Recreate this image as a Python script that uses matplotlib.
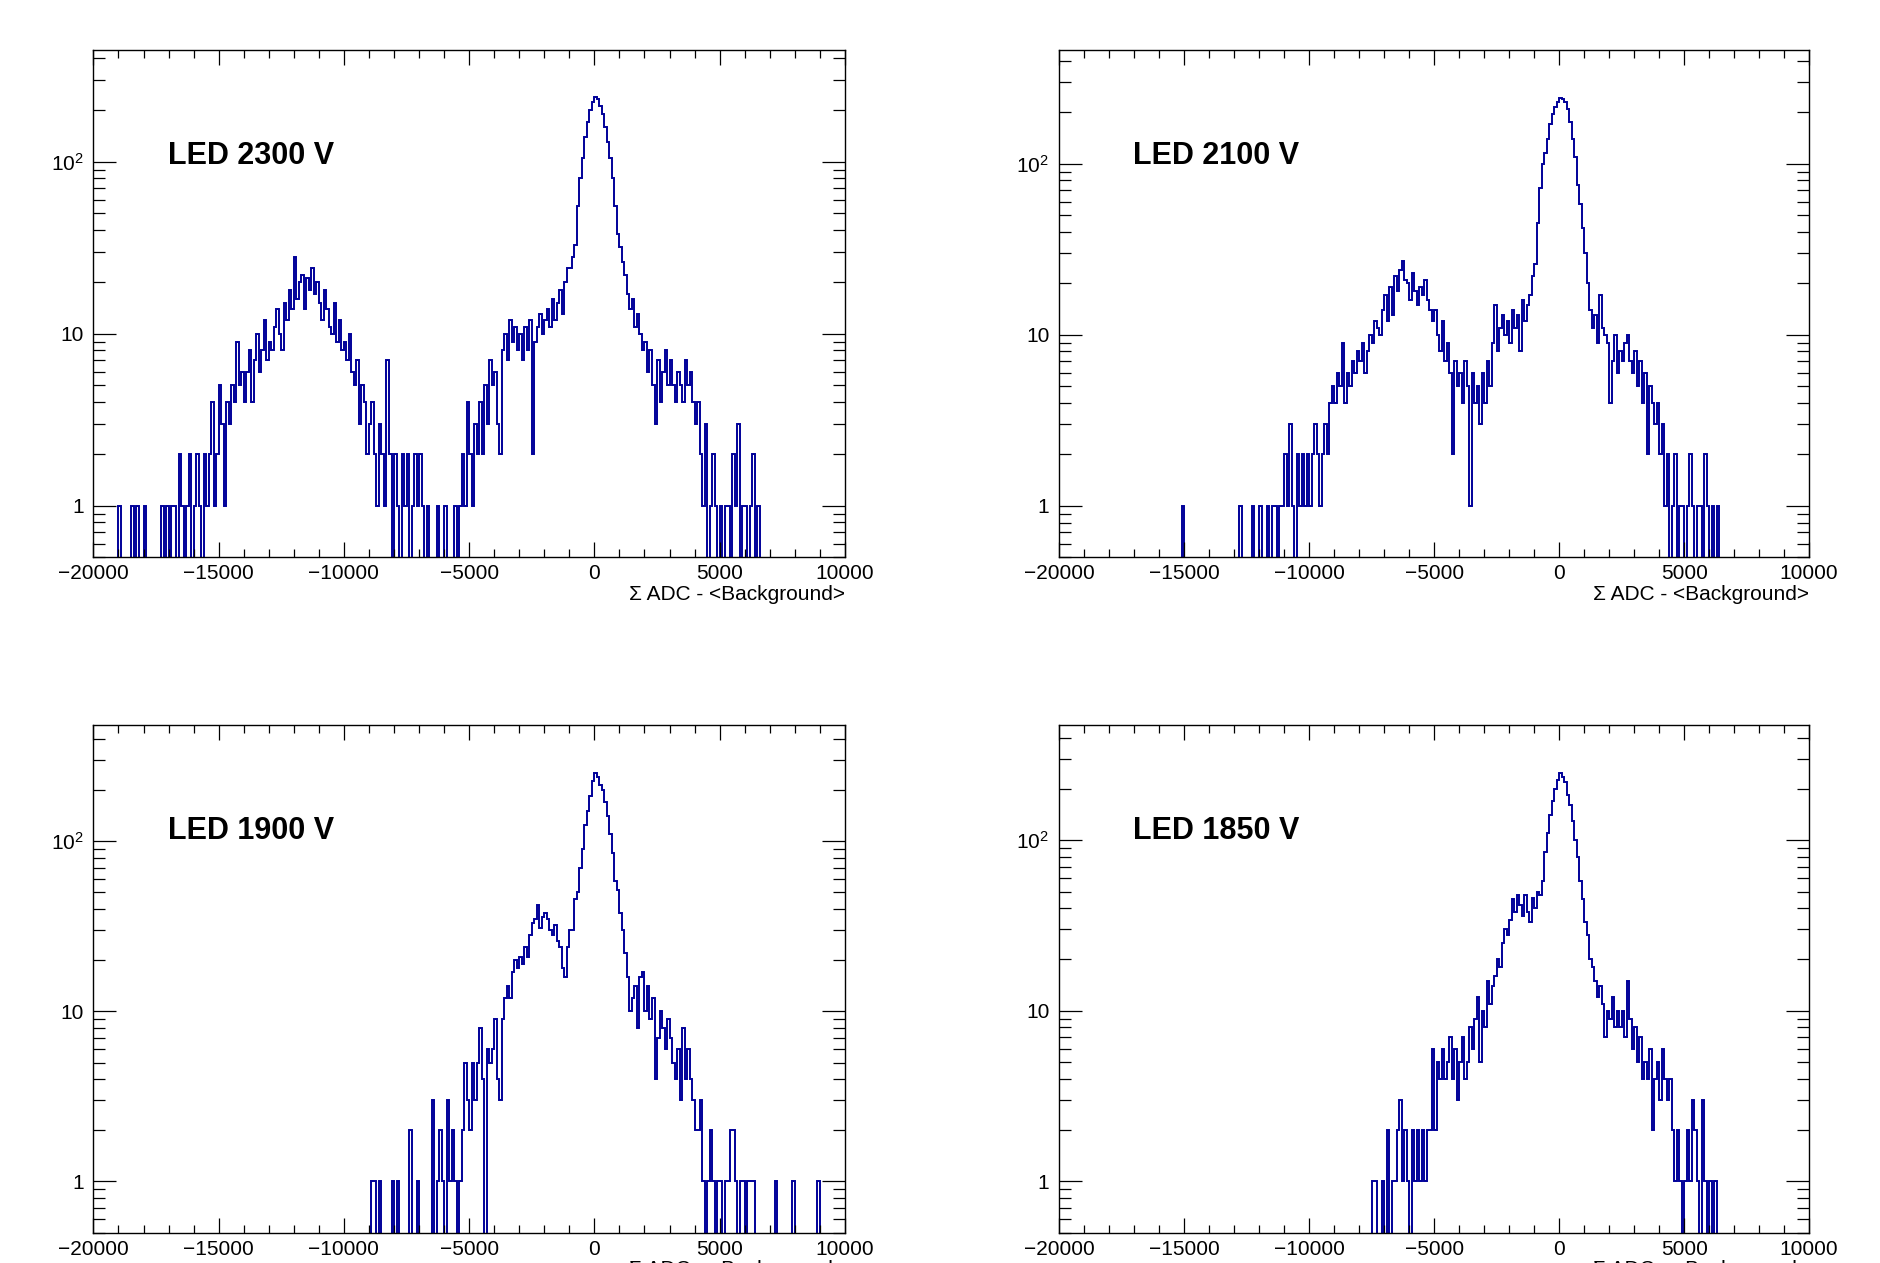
import matplotlib
matplotlib.use('Agg')
import matplotlib.pyplot as plt
from matplotlib.ticker import FixedLocator, MultipleLocator, LogLocator, NullFormatter
import numpy as np

plt.rcParams['font.family'] = ['Liberation Sans', 'DejaVu Sans']
plt.rcParams['mathtext.fontset'] = 'custom'
plt.rcParams['mathtext.rm'] = 'Liberation Sans'
plt.rcParams['mathtext.it'] = 'Liberation Sans'

# histogram bin width (ADC counts) and panel labels
bin_width = 100
labels = ['LED 2300 V', 'LED 2100 V', 'LED 1900 V', 'LED 1850 V']
xlabel = '\u03a3 ADC - <Background>'

# LED 2300 V, first bin starts at -19000
start_2300 = -19000
counts_2300 = [
    1, 0, 0, 0, 0, 1, 0, 1, 0, 0,
    1, 0, 0, 0, 0, 0, 0, 1, 0, 1,
    0, 1, 1, 0, 2, 1, 0, 1, 2, 0,
    1, 2, 1, 0, 2, 1, 2, 4, 1, 2,
    5, 3, 1, 4, 3, 5, 4, 9, 5, 6,
    4, 6, 8, 4, 7, 10, 6, 8, 12, 7,
    9, 8, 11, 14, 10, 8, 15, 12, 18, 14,
    28, 16, 20, 22, 14, 21, 18, 24, 17, 20,
    15, 12, 18, 14, 11, 10, 15, 9, 12, 8,
    9, 7, 10, 6, 5, 7, 3, 5, 4, 2,
    3, 4, 2, 1, 3, 2, 1, 7, 2, 0,
    2, 1, 0, 2, 1, 2, 0, 1, 2, 1,
    2, 1, 0, 1, 0, 0, 0, 1, 0, 0,
    1, 0, 0, 0, 1, 0, 1, 2, 1, 4,
    2, 1, 3, 2, 4, 2, 5, 3, 7, 5,
    6, 3, 2, 8, 10, 7, 12, 9, 11, 8,
    10, 7, 11, 8, 12, 2, 9, 11, 13, 10,
    12, 14, 11, 16, 12, 15, 18, 13, 20, 24,
    24, 28, 33, 55, 80, 105, 140, 170, 200, 222,
    238, 232, 212, 190, 160, 130, 105, 80, 55, 38,
    32, 26, 22, 17, 14, 16, 11, 13, 10, 8,
    9, 6, 8, 5, 3, 7, 4, 6, 8, 5,
    7, 5, 4, 6, 5, 4, 7, 5, 6, 4,
    3, 4, 2, 1, 3, 0, 1, 2, 1, 0,
    1, 0, 1, 1, 0, 2, 1, 3, 0, 1,
    1, 0, 1, 2, 0, 1,
]

# LED 2100 V, first bin starts at -15100
start_2100 = -15100
counts_2100 = [
    1, 0, 0, 0, 0, 0, 0, 0, 0, 0,
    0, 0, 0, 0, 0, 0, 0, 0, 0, 0,
    0, 0, 0, 1, 0, 0, 0, 0, 1, 0,
    0, 1, 0, 0, 1, 0, 1, 1, 0, 1,
    1, 2, 1, 3, 1, 0, 2, 1, 2, 1,
    2, 1, 2, 3, 2, 1, 2, 3, 2, 4,
    5, 4, 6, 5, 9, 4, 6, 5, 7, 6,
    8, 7, 9, 6, 8, 10, 9, 12, 11, 10,
    14, 17, 12, 19, 13, 22, 18, 24, 27, 21,
    20, 16, 23, 18, 15, 19, 17, 21, 16, 14,
    12, 14, 10, 8, 12, 7, 9, 6, 2, 7,
    5, 6, 4, 7, 5, 1, 6, 4, 5, 3,
    6, 4, 7, 5, 9, 15, 8, 11, 13, 10,
    12, 9, 14, 11, 13, 8, 16, 12, 15, 17,
    22, 26, 45, 72, 100, 115, 140, 170, 195, 215,
    230, 242, 238, 230, 210, 175, 140, 110, 75, 58,
    42, 30, 20, 14, 11, 13, 9, 17, 11, 10,
    9, 4, 7, 10, 6, 8, 7, 9, 10, 7,
    6, 8, 5, 7, 4, 6, 2, 5, 4, 3,
    4, 2, 3, 1, 2, 0, 1, 2, 0, 1,
    1, 0, 1, 2, 1, 0, 1, 1, 0, 2,
    1, 0, 1, 0, 1,
]

# LED 1900 V, first bin starts at -8900
start_1900 = -8900
counts_1900 = [
    1, 1, 0, 1, 0, 0, 0, 0, 1, 0,
    1, 0, 0, 0, 0, 2, 0, 0, 1, 0,
    0, 0, 0, 0, 3, 0, 1, 2, 1, 0,
    3, 1, 2, 1, 0, 1, 2, 5, 3, 2,
    5, 3, 5, 8, 4, 0, 6, 5, 6, 9,
    4, 3, 9, 12, 14, 12, 17, 20, 18, 21,
    19, 24, 21, 28, 33, 35, 42, 31, 36, 38,
    35, 30, 28, 32, 26, 24, 18, 16, 24, 30,
    30, 46, 50, 70, 90, 125, 150, 185, 225, 252,
    238, 215, 200, 170, 140, 110, 85, 58, 52, 38,
    30, 22, 16, 10, 12, 14, 8, 16, 17, 10,
    14, 9, 12, 4, 7, 10, 8, 6, 9, 7,
    5, 4, 6, 3, 8, 4, 6, 4, 3, 2,
    2, 3, 1, 0, 1, 2, 1, 0, 1, 1,
    0, 1, 1, 2, 2, 1, 0, 1, 1, 0,
    1, 1, 1, 0, 0, 0, 0, 0, 0, 0,
    0, 1, 0, 0, 0, 0, 0, 0, 1, 0,
    0, 0, 0, 0, 0, 0, 0, 0, 1, 0,
]

# LED 1850 V, first bin starts at -7600
start_1850 = -7600
counts_1850 = [
    0, 1, 1, 0, 0, 1, 0, 2, 0, 1,
    1, 2, 3, 1, 2, 1, 0, 2, 1, 2,
    1, 2, 1, 2, 2, 6, 2, 5, 4, 6,
    4, 5, 7, 4, 6, 3, 5, 7, 4, 5,
    8, 6, 9, 12, 5, 10, 8, 15, 11, 14,
    16, 20, 18, 25, 30, 28, 34, 45, 38, 48,
    42, 36, 48, 38, 33, 46, 40, 50, 48, 58,
    85, 110, 140, 170, 200, 225, 247, 235, 220, 185,
    160, 130, 100, 80, 58, 45, 33, 28, 20, 18,
    15, 12, 14, 11, 7, 10, 9, 12, 8, 10,
    8, 10, 7, 15, 9, 6, 8, 5, 7, 4,
    5, 4, 6, 2, 4, 5, 3, 6, 4, 3,
    4, 2, 1, 2, 1, 0, 1, 2, 1, 3,
    2, 1, 0, 3, 1, 0, 1, 0, 1,
]

starts = [start_2300, start_2100, start_1900, start_1850]
all_counts = [counts_2300, counts_2100, counts_1900, counts_1850]
ymax = [446, 462, 482, 474]

fig = plt.figure(figsize=(18.8, 12.63), dpi=100)
positions = [
    [0.0497, 0.5586, 0.3997, 0.4018],
    [0.5633, 0.5586, 0.3990, 0.4018],
    [0.0497, 0.0241, 0.3997, 0.4018],
    [0.5633, 0.0241, 0.3990, 0.4018],
]

for pos, label, start, counts, ytop in zip(positions, labels, starts, all_counts, ymax):
    ax = fig.add_axes(pos)
    counts = np.array(counts, dtype=float)
    edges = start + bin_width * np.arange(len(counts) + 1)
    ax.stairs(counts, edges, color='#000099', linewidth=1.4)

    ax.set_yscale('log')
    ax.set_xlim(-20000, 10000)
    ax.set_ylim(0.5, ytop)

    ax.xaxis.set_major_locator(MultipleLocator(5000))
    ax.xaxis.set_minor_locator(MultipleLocator(1000))
    ax.yaxis.set_major_locator(FixedLocator([1, 10, 100]))
    ax.yaxis.set_minor_locator(LogLocator(base=10, subs=np.arange(2, 10) * 1.0, numticks=20))
    ax.yaxis.set_minor_formatter(NullFormatter())
    ax.set_yticklabels(['1', '10', '$10^{2}$'])
    ax.set_xticks([-20000, -15000, -10000, -5000, 0, 5000, 10000])
    ax.set_xticklabels(['\u221220000', '\u221215000', '\u221210000', '\u22125000', '0', '5000', '10000'])

    ax.tick_params(axis='both', which='both', direction='in', top=True, right=True,
                   width=0.9, colors='black', labelsize=15)
    ax.tick_params(axis='x', which='major', length=11, pad=5)
    ax.tick_params(axis='x', which='minor', length=6)
    ax.tick_params(axis='y', which='major', length=16.5, pad=7)
    ax.tick_params(axis='y', which='minor', length=8.5)
    for sp in ax.spines.values():
        sp.set_linewidth(1.0)

    ax.set_xlabel(xlabel, loc='right', fontsize=15, labelpad=1)
    ax.text(0.099, 0.775, label, transform=ax.transAxes, fontsize=22,
            fontweight='bold', ha='left', va='baseline')

fig.savefig('out.png', dpi=100)
